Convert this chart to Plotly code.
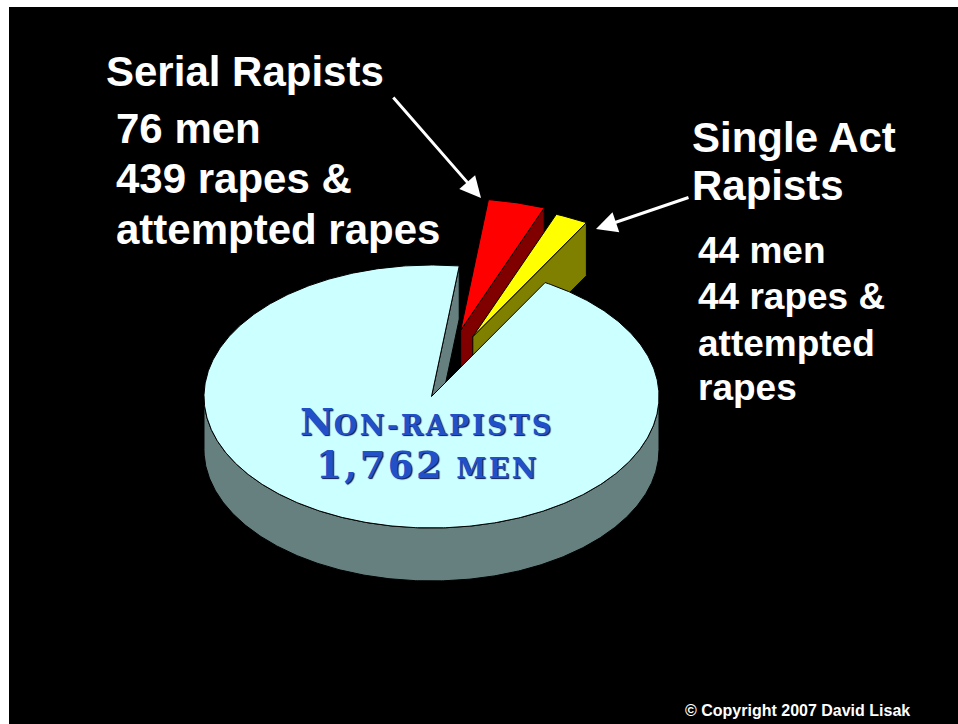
import numpy as np
import plotly.graph_objects as go

# ---------------- data ----------------
groups = ["Non-rapists", "Serial Rapists", "Single Act Rapists"]
men = [1762, 76, 44]
rapes = [0, 439, 44]

# ---------------- style ----------------
top_colors = ["#CCFFFF", "#FF0000", "#FFFF00"]
side_colors = ["#668080", "#800000", "#808000"]
explode = [0.0, 0.52, 0.49]
explode_shift = [0.0, 0.0, 4.0]      # degrees added to the explode direction
clockwise_order = [1, 2, 0]          # slices laid out clockwise from START_ANGLE
draw_order = [1, 2, 0]               # back to front
START_ANGLE = 83.0

CX, CY, RX, RY, DEPTH = 431.5, 396.5, 227.5, 131.5, 53.0

total = sum(men)
spans = {}
a = START_ANGLE
for i in clockwise_order:
    sweep = 360.0 * men[i] / total
    spans[i] = (a - sweep, a)
    a -= sweep


def proj(theta_deg, r, h, off):
    t = np.radians(theta_deg)
    return (CX + off[0] + r * RX * np.cos(t),
            CY + off[1] - r * RY * np.sin(t) + h * DEPTH)


def arc(lo, hi):
    n = max(2, int(abs(hi - lo) * 2) + 1)
    return np.linspace(lo, hi, n)


fig = go.Figure()


def poly(xs, ys, color):
    xs = list(xs) + [xs[0]]
    ys = list(ys) + [ys[0]]
    fig.add_trace(go.Scatter(x=xs, y=ys, mode="lines", fill="toself",
                             fillcolor=color, line=dict(color="black", width=1),
                             hoverinfo="skip", showlegend=False))


for i in draw_order:
    lo, hi = spans[i]
    mid = np.radians((lo + hi) / 2 + explode_shift[i])
    off = (explode[i] * RX * np.cos(mid), -explode[i] * RY * np.sin(mid))
    # radial faces
    for ang, vis in ((hi, np.cos(np.radians(hi)) < 0), (lo, np.cos(np.radians(lo)) > 0)):
        if vis:
            p0 = proj(ang, 0, 0, off); p1 = proj(ang, 1, 0, off)
            p2 = proj(ang, 1, 1, off); p3 = proj(ang, 0, 1, off)
            poly([p0[0], p1[0], p2[0], p3[0]], [p0[1], p1[1], p2[1], p3[1]], side_colors[i])
    # outer cylinder side (front half only)
    for k in range(-2, 3):
        s_lo = max(lo, 180 + 360 * k)
        s_hi = min(hi, 360 + 360 * k)
        if s_hi > s_lo:
            th = arc(s_lo, s_hi)
            xt, yt = proj(th, 1, 0, off)
            xb, yb = proj(th[::-1], 1, 1, off)
            poly(np.concatenate([xt, xb]), np.concatenate([yt, yb]), side_colors[i])
    # top face
    th = arc(lo, hi)
    xa, ya = proj(th, 1, 0, off)
    ax0, ay0 = proj(0, 0, 0, off)
    poly(np.concatenate([[ax0], xa]), np.concatenate([[ay0], ya]), top_colors[i])

# ---------------- text ----------------
WHITE = "white"
SANS = "Liberation Sans, Arial, sans-serif"


def label(txt, x, y, size, anchor="left", color=WHITE, family=SANS, shadow=None):
    font = dict(family=family, size=size, color=color)
    if shadow:
        font["shadow"] = shadow
    fig.add_annotation(x=x, y=y, xref="x", yref="y", text=txt, showarrow=False,
                       xanchor=anchor, yanchor="middle", font=font)


label("<b>Serial Rapists</b>", 104, 71, 42)
label(f"<b>{men[1]} men</b>", 114, 128, 42)
label(f"<b>{rapes[1]} rapes &amp;</b>", 114, 178, 42)
label("<b>attempted rapes</b>", 114, 229, 42)

label("<b>Single Act</b>", 690, 137, 42)
label("<b>Rapists</b>", 690, 185, 42)
label(f"<b>{men[2]} men</b>", 696, 250, 37)
label(f"<b>{rapes[2]} rapes &amp;</b>", 696, 296, 37)
label("<b>attempted</b>", 696, 343, 37)
label("<b>rapes</b>", 696, 387, 37)

label("<b>© Copyright 2007 David Lisak</b>", 683, 710, 16)

# centre label in small caps
SERIF = "DejaVu Serif, serif"
sc = "letter-spacing:2.5px"
line1 = f"<b>N<span style='font-size:27px;{sc}'>ON-RAPISTS</span></b>"
line2 = f"<b><span style='{sc}'>{men[0]:,}</span><span style='font-size:27px;{sc}'> MEN</span></b>"
label(line1, 427, 422, 37, anchor="center", color="#2150c8", family=SERIF,
      shadow="1px 1px 1px #06185a")
label(line2, 427, 465, 37, anchor="center", color="#2150c8", family=SERIF,
      shadow="1px 1px 1px #06185a")

# arrows
for (tx, ty), (hx, hy) in (((392, 96), (481, 198)), ((690, 197), (596, 229))):
    fig.add_annotation(x=hx, y=hy, ax=tx, ay=ty, xref="x", yref="y", axref="x", ayref="y",
                       text="", showarrow=True, arrowhead=2, arrowsize=1.4,
                       arrowwidth=3, arrowcolor=WHITE)

fig.update_xaxes(range=[9, 958], visible=False, fixedrange=True)
fig.update_yaxes(range=[724, 7], visible=False, fixedrange=True)
fig.update_layout(width=958, height=724, margin=dict(l=9, r=0, t=7, b=0),
                  paper_bgcolor="white", plot_bgcolor="black", showlegend=False)

fig.write_html("out.html", config={"displayModeBar": False},
               post_script="document.body.style.margin='0';document.body.style.overflow='hidden';")
